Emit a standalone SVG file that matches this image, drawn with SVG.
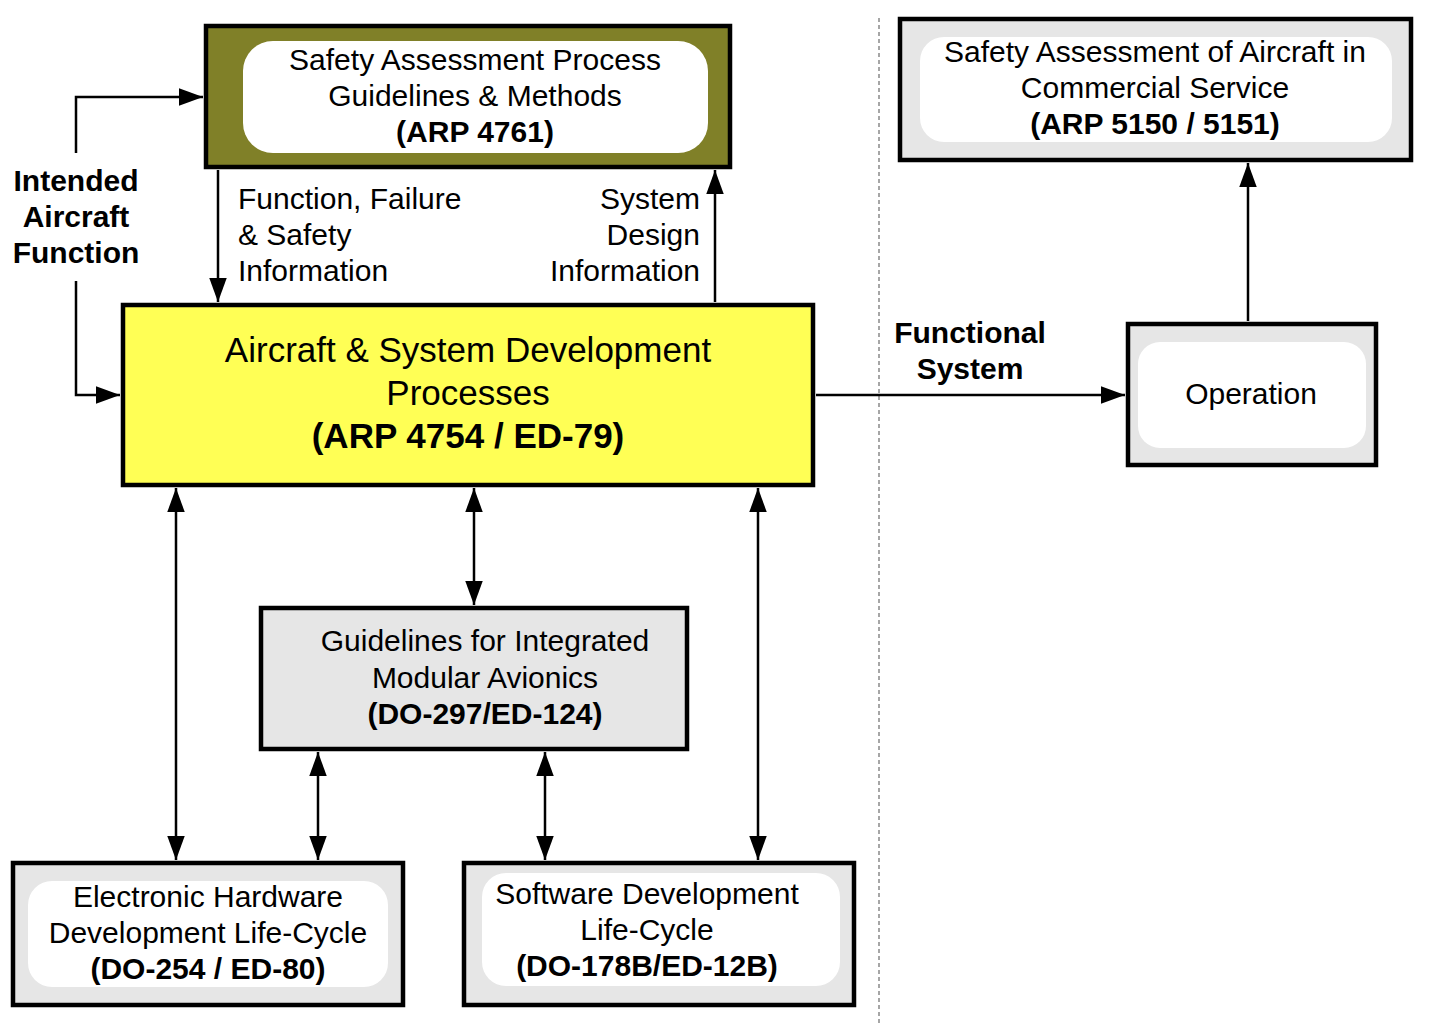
<svg xmlns="http://www.w3.org/2000/svg" width="1442" height="1028" viewBox="0 0 1442 1028">
<style>
text{font-family:"Liberation Sans",Arial,sans-serif;fill:#000}
.t{font-size:30px}
.b{font-weight:bold}
.m{text-anchor:middle}
.e{text-anchor:end}
.box{stroke:#000;stroke-width:4.5}
.in{fill:#fff;stroke:none}
.ln{stroke:#000;stroke-width:2.5;fill:none}
</style>
<defs>
<marker id="ah" markerUnits="userSpaceOnUse" markerWidth="24" markerHeight="18" refX="22" refY="8" orient="auto-start-reverse" viewBox="0 0 22 16">
<path d="M0,0 L22,8 L0,16 z" fill="#000"/>
</marker>
</defs>
<rect width="1442" height="1028" fill="#fff"/>
<line x1="879" y1="18" x2="879" y2="1026" stroke="#777" stroke-width="1.3" stroke-dasharray="4,3"/>
<g id="connectors">
<polyline class="ln" points="76,153 76,97 203,97" marker-end="url(#ah)"/>
<polyline class="ln" points="76,281 76,395 120,395" marker-end="url(#ah)"/>
<line class="ln" x1="218" y1="170" x2="218" y2="302" marker-end="url(#ah)"/>
<line class="ln" x1="715" y1="302" x2="715" y2="170" marker-end="url(#ah)"/>
<line class="ln" x1="816" y1="395" x2="1125" y2="395" marker-end="url(#ah)"/>
<line class="ln" x1="1248" y1="321" x2="1248" y2="163" marker-end="url(#ah)"/>
<line class="ln" x1="176" y1="488" x2="176" y2="860" marker-start="url(#ah)" marker-end="url(#ah)"/>
<line class="ln" x1="474" y1="488" x2="474" y2="605" marker-start="url(#ah)" marker-end="url(#ah)"/>
<line class="ln" x1="758" y1="488" x2="758" y2="860" marker-start="url(#ah)" marker-end="url(#ah)"/>
<line class="ln" x1="318" y1="752" x2="318" y2="860" marker-start="url(#ah)" marker-end="url(#ah)"/>
<line class="ln" x1="545" y1="752" x2="545" y2="860" marker-start="url(#ah)" marker-end="url(#ah)"/>
</g>
<g id="label-intended">
<text class="t b m" x="76" y="191">Intended</text>
<text class="t b m" x="76" y="227">Aircraft</text>
<text class="t b m" x="76" y="263">Function</text>
</g>
<g id="label-ffs">
<text class="t" x="238" y="209">Function, Failure</text>
<text class="t" x="238" y="245">&amp; Safety</text>
<text class="t" x="238" y="281">Information</text>
</g>
<g id="label-sdi">
<text class="t e" x="700" y="209">System</text>
<text class="t e" x="700" y="245">Design</text>
<text class="t e" x="700" y="281">Information</text>
</g>
<g id="label-functional">
<text class="t b m" x="970" y="343">Functional</text>
<text class="t b m" x="970" y="379">System</text>
</g>
<g id="node-arp4761">
<rect class="box" x="206" y="26" width="524" height="141" fill="#808028"/>
<rect class="in" x="243" y="41" width="465" height="112" rx="30"/>
<text class="t m" x="475" y="70">Safety Assessment Process</text>
<text class="t m" x="475" y="106">Guidelines &amp; Methods</text>
<text class="t b m" x="475" y="142">(ARP 4761)</text>
</g>
<g id="node-arp4754">
<rect class="box" x="123" y="305" width="690" height="180" fill="#ffff55"/>
<text class="m" style="font-size:35px" x="468" y="362">Aircraft &amp; System Development</text>
<text class="m" style="font-size:35px" x="468" y="405">Processes</text>
<text class="b m" style="font-size:35px" x="468" y="448">(ARP 4754 / ED-79)</text>
</g>
<g id="node-arp5150">
<rect class="box" x="900" y="19" width="511" height="141" fill="#e6e6e6"/>
<rect class="in" x="920" y="37" width="472" height="105" rx="24"/>
<text class="t m" x="1155" y="62">Safety Assessment of Aircraft in</text>
<text class="t m" x="1155" y="98">Commercial Service</text>
<text class="t b m" x="1155" y="134">(ARP 5150 / 5151)</text>
</g>
<g id="node-operation">
<rect class="box" x="1128" y="324" width="248" height="141" fill="#e6e6e6"/>
<rect class="in" x="1138" y="342" width="228" height="106" rx="22"/>
<text class="t m" x="1251" y="404">Operation</text>
</g>
<g id="node-ima">
<rect class="box" x="261" y="608" width="426" height="141" fill="#e6e6e6"/>
<text class="t m" x="485" y="651">Guidelines for Integrated</text>
<text class="t m" x="485" y="688">Modular Avionics</text>
<text class="t b m" x="485" y="724">(DO-297/ED-124)</text>
</g>
<g id="node-do254">
<rect class="box" x="13" y="863" width="390" height="142" fill="#e6e6e6"/>
<rect class="in" x="28" y="881" width="360" height="106" rx="24"/>
<text class="t m" x="208" y="907">Electronic Hardware</text>
<text class="t m" x="208" y="943">Development Life-Cycle</text>
<text class="t b m" x="208" y="979">(DO-254 / ED-80)</text>
</g>
<g id="node-do178">
<rect class="box" x="464" y="863" width="390" height="142" fill="#e6e6e6"/>
<rect class="in" x="482" y="873" width="358" height="113" rx="24"/>
<text class="t m" x="647" y="904">Software Development</text>
<text class="t m" x="647" y="940">Life-Cycle</text>
<text class="t b m" x="647" y="976">(DO-178B/ED-12B)</text>
</g>
</svg>
